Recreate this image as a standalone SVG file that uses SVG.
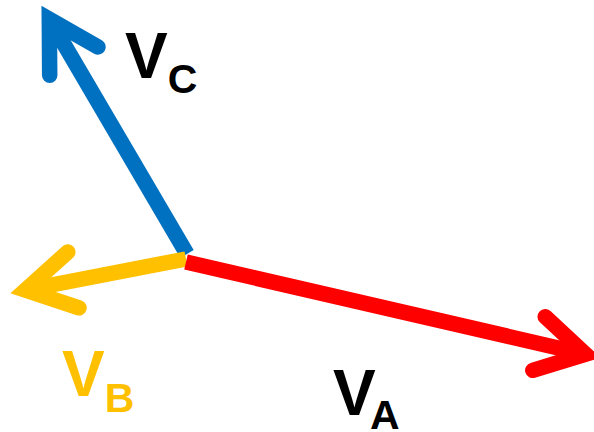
<svg xmlns="http://www.w3.org/2000/svg" width="594" height="432" viewBox="0 0 594 432">
  <style>
    .shaft { fill: none; stroke-width: 15.5; stroke-linecap: butt; }
    .head { fill: none; stroke-width: 15.5; stroke-linecap: round; stroke-linejoin: miter; stroke-miterlimit: 10; }
    .blue { stroke: #0070C0; }
    .yellow { stroke: #FFC000; }
    .red { stroke: #FF0000; }
    .lbl { font-family: "Liberation Sans", Arial, sans-serif; font-weight: bold; font-size: 64px; fill: #000000; }
    .sub { font-size: 41px; }
  </style>
  <rect width="594" height="432" fill="#FFFFFF"/>
  <g id="connectors">
    <g id="vc-arrow">
      <line class="shaft blue" x1="187" y1="254" x2="49.3" y2="19.2"/>
      <polyline class="head blue" points="98,46.9 49.3,19.2 49.7,75.2"/>
    </g>
    <g id="vb-arrow">
      <line class="shaft yellow" x1="186" y1="259" x2="25.5" y2="290"/>
      <polyline class="head yellow" points="67.8,252 25.5,290 79,307.8"/>
    </g>
    <g id="va-arrow">
      <line class="shaft red" x1="186" y1="262" x2="585.4" y2="354.2"/>
      <polyline class="head red" points="545.2,316.7 585.4,354.2 532.8,370.3"/>
    </g>
  </g>
  <g id="label-vc">
    <text class="lbl" x="125" y="78">V<tspan class="sub" dy="15">C</tspan></text>
  </g>
  <g id="label-vb">
    <text class="lbl" x="62" y="396" style="fill:#FFC000">V<tspan class="sub" dy="16">B</tspan></text>
  </g>
  <g id="label-va">
    <text class="lbl" x="333" y="415">V<tspan class="sub" x="370" y="429">A</tspan></text>
  </g>
</svg>
